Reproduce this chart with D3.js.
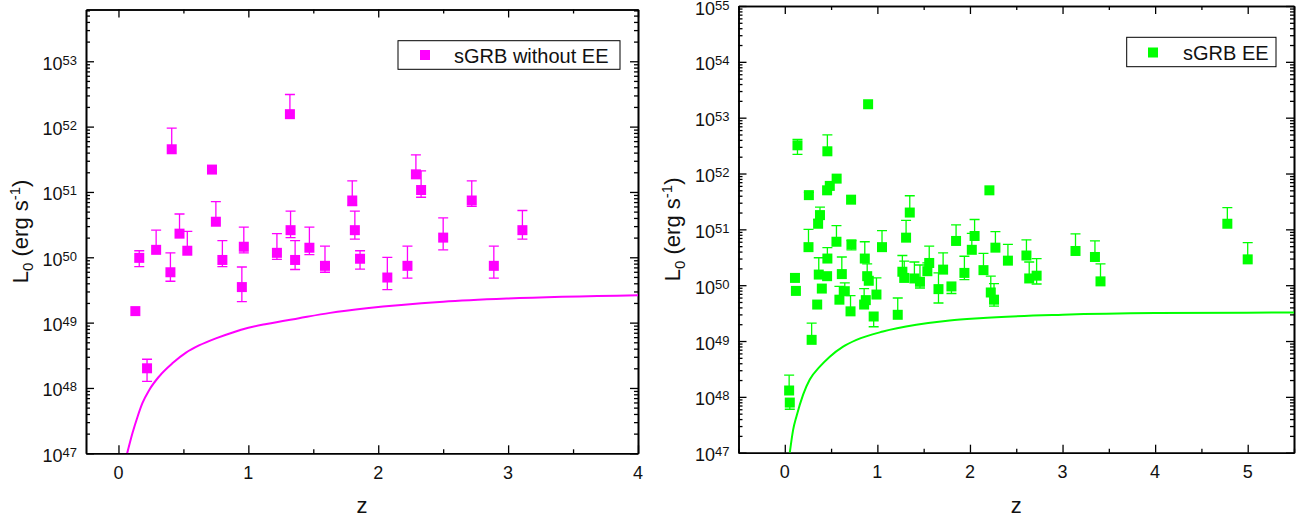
<!DOCTYPE html>
<html>
<head>
<meta charset="utf-8">
<script src="https://cdn.jsdelivr.net/npm/d3@7"></script>
<style>
  body { margin: 0; background: #fff; }
  svg { display: block; font-family: "Liberation Sans", Arial, sans-serif; }
</style>
</head>
<body>
<svg id="chart" width="1305" height="523"></svg>
<script>
// ---- sGRB without extended emission: redshift, L0 and its error range (erg/s)
const zNoEE  = [0.13,0.16,0.22,0.29,0.40, 0.41,0.47,0.53,0.72,0.75, 0.80,0.95,0.965,1.22,1.32, 1.325,1.36,1.47,1.59,1.80, 1.82,1.86,2.07,2.225,2.29, 2.33,2.50,2.72,2.89,3.11];
const lNoEE  = [1.5e49,9.8e49,2.0e48,1.3e50,5.9e49, 4.5e51,2.3e50,1.26e50,2.2e51,3.5e50, 9.1e49,3.5e49,1.45e50,1.17e50,1.55e52, 2.6e50,9.1e49,1.4e50,7.4e49,7.4e50, 2.6e50,9.5e49,4.9e49,7.4e49,1.86e51, 1.07e51,2.0e50,7.4e50,7.4e49,2.6e50];
const hiNoEE = [null,1.26e50,2.75e48,2.6e50,1.17e50, 9.5e51,4.6e50,2.5e50,null,7.1e50, 1.8e50,7.1e49,2.9e50,2.3e50,3.1e52, 5.1e50,1.8e50,2.9e50,1.48e50,1.48e51, 5.1e50,1.26e50,1.0e50,1.48e50,3.7e51, 2.1e51,4.0e50,1.48e51,1.48e50,5.2e50];
const loNoEE = [null,7.2e49,1.26e48,null,4.3e49, null,null,null,null,null, 7.2e49,2.1e49,1.17e50,9.3e49,null, 2.0e50,6.5e49,1.1e50,5.9e49,6.2e50, 1.9e50,6.6e49,3.2e49,4.8e49,null, 8.3e50,1.3e50,6.0e50,4.8e49,1.9e50];
// detection threshold for this sample
const limZNoEE = [0.067,0.108,0.147,0.185,0.237,0.314,0.417,0.52,0.62,0.75,0.88,1.0,1.14,1.39,1.63,1.91,2.5,3.0,4.0];
const limLNoEE = [1.0e47,2.04e47,3.63e47,5.89e47,9.33e47,1.51e48,2.40e48,3.47e48,4.47e48,5.75e48,7.08e48,8.32e48,9.55e48,1.17e49,1.41e49,1.66e49,2.09e49,2.34e49,2.63e49];

// ---- sGRB with extended emission
const zEE  = [0.047,0.054,0.11,0.12,0.137, 0.256,0.26,0.29,0.35,0.36, 0.38,0.367,0.40,0.457,0.46, 0.46,0.457,0.486,0.558,0.56, 0.59,0.616,0.648,0.71,0.716, 0.72,0.857,0.864,0.875,0.89, 0.90,0.907,0.96,0.99,1.05, 1.22,1.27,1.29,1.31,1.35, 1.40,1.46,1.54,1.56,1.66, 1.71,1.80,1.85,1.94,2.02, 2.05,2.146,2.21,2.225,2.26, 2.275,2.41,2.61,2.64,2.72, 3.14,3.35,3.41,4.78,5.0];
const lEE  = [1.3e48,7.9e47,1.35e50,7.9e49,3.2e52, 4.8e50,4.1e51,1.05e49,4.5e49,1.26e51, 1.8e51,1.55e50,8.7e49,5.0e51,2.5e52, 3.0e50,1.45e50,6.0e51,6.0e50,8.1e51, 5.5e49,1.58e50,7.8e49,3.4e49,3.4e51, 5.4e50,4.5e49,3.0e50,5.4e49,1.45e50, 1.74e53,1.2e50,2.75e49,6.8e49,4.8e50, 2.95e49,1.74e50,1.35e50,7.1e50,2.0e51, 1.32e50,1.15e50,1.78e50,2.5e50,8.5e49, 1.9e50,9.5e49,6.2e50,1.66e50,4.3e50, 7.6e50,1.86e50,5.0e51,7.4e49,5.5e49, 4.7e50,2.75e50,3.4e50,1.32e50,1.48e50, 4.1e50,3.2e50,1.17e50,1.26e51,2.9e50];
const hiEE = [2.45e48,null,null,null,4.1e52, 1.0e51,4.6e51,2.1e49,null,1.5e51, 2.5e51,3.1e50,null,null,4.9e52, 4.7e50,null,null,1.17e51,null, 9.5e49,3.2e50,1.1e50,6.5e49,null, 6.3e50,8.7e49,6.0e50,null,2.4e50, null,null,null,1.35e50,9.5e50, 5.9e49,3.4e50,2.7e50,1.45e51,4.0e51, 2.6e50,2.3e50,2.5e50,5.0e50,1.66e50, 3.8e50,null,1.2e51,3.3e50,8.5e50, 1.5e51,3.7e50,null,1.45e50,1.07e50, 9.1e50,5.4e50,6.5e50,2.6e50,3.0e50, 8.3e50,6.2e50,2.4e50,2.45e51,5.8e50];
const loEE = [null,6.0e47,null,null,2.2e52, null,null,null,null,null, null,null,null,null,null, null,null,null,null,null, null,null,null,null,null, 4.3e50,null,null,null,null, null,null,1.8e49,null,null, null,null,null,null,null, null,8.9e49,null,null,4.8e49, null,7.1e49,null,1.26e50,null, null,null,null,null,4.2e49, null,null,null,null,1.05e50, null,null,null,null,null];
const limZEE = [0.054,0.09,0.126,0.198,0.27,0.378,0.486,0.63,0.774,1.06,1.42,1.78,2.1,3.0,4.0,5.5];
const limLEE = [1.0e47,2.57e47,4.47e47,1.10e48,2.04e48,3.47e48,5.25e48,7.94e48,1.05e49,1.48e49,1.95e49,2.34e49,2.57e49,2.95e49,3.16e49,3.24e49];

// ---- axis ticks
const xLabelsNoEE = [0, 1, 2, 3, 4];
const xLabelsEE   = [0, 1, 2, 3, 4, 5];
const decadesNoEE = [47, 48, 49, 50, 51, 52, 53];
const decadesEE   = [47, 48, 49, 50, 51, 52, 53, 54, 55];

const svg = d3.select("#chart");

const panels = [
  {
    id: "noee", left: 86, right: 638, top: 9.5, bottom: 453.3,
    xDomain: [-0.25, 4], yDomain: [1e47, 6.2e53],
    xLabels: xLabelsNoEE, decades: decadesNoEE,
    color: "#ff00ff", name: "sGRB without EE",
    z: zNoEE, l: lNoEE, hi: hiNoEE, lo: loNoEE, limZ: limZNoEE, limL: limLNoEE,
    legend: { x: 398, y: 40.7, w: 222, h: 28.6, mx: 425, my: 55, tx: 454, ty: 62.5 },
    yTitleX: 28
  },
  {
    id: "ee", left: 738.5, right: 1294, top: 6, bottom: 452.7,
    xDomain: [-0.5, 5.5], yDomain: [1e47, 1e55],
    xLabels: xLabelsEE, decades: decadesEE,
    color: "#00ff00", name: "sGRB EE",
    z: zEE, l: lEE, hi: hiEE, lo: loEE, limZ: limZEE, limL: limLEE,
    legend: { x: 1126.7, y: 37.3, w: 149.3, h: 29.4, mx: 1153, my: 52.5, tx: 1183, ty: 60 },
    yTitleX: 680
  }
];

panels.forEach(drawPanel);

function drawPanel(p) {
  const x = d3.scaleLinear().domain(p.xDomain).range([p.left, p.right]);
  const y = d3.scaleLog().domain(p.yDomain).range([p.bottom, p.top]);
  const g = svg.append("g");

  // clip for curve and marks
  g.append("clipPath").attr("id", "clip-" + p.id)
    .append("rect").attr("x", p.left).attr("y", p.top)
    .attr("width", p.right - p.left).attr("height", p.bottom - p.top);

  // x ticks (integer majors, half-step minors)
  const xMinor = d3.range(Math.ceil(p.xDomain[0] * 2) / 2, p.xDomain[1] + 1e-9, 0.5)
    .filter(v => Math.abs(v - Math.round(v)) > 1e-6);
  const yMinor = [];
  const lo10 = Math.floor(Math.log10(p.yDomain[0]));
  const hi10 = Math.ceil(Math.log10(p.yDomain[1]));
  for (let e = lo10; e < hi10; e++) {
    for (let m = 2; m <= 9; m++) {
      const v = m * Math.pow(10, e);
      if (v > p.yDomain[0] && v < p.yDomain[1]) yMinor.push(v);
    }
  }
  const yMajor = p.decades.map(e => Math.pow(10, e));

  function styleAxis(sel) {
    sel.selectAll("text").remove();
    sel.select(".domain").attr("stroke", "#000").attr("stroke-width", 1.6);
    sel.selectAll(".tick line").attr("stroke", "#000").attr("stroke-width", 1.3);
  }

  // bottom and top
  g.append("g").attr("transform", `translate(0,${p.bottom})`)
    .call(d3.axisBottom(x).tickValues(p.xLabels).tickSizeInner(-8).tickSizeOuter(0)).call(styleAxis);
  g.append("g").attr("transform", `translate(0,${p.bottom})`)
    .call(d3.axisBottom(x).tickValues(xMinor).tickSizeInner(-4).tickSizeOuter(0)).call(styleAxis);
  g.append("g").attr("transform", `translate(0,${p.top})`)
    .call(d3.axisTop(x).tickValues(p.xLabels).tickSizeInner(-8).tickSizeOuter(0)).call(styleAxis);
  g.append("g").attr("transform", `translate(0,${p.top})`)
    .call(d3.axisTop(x).tickValues(xMinor).tickSizeInner(-4).tickSizeOuter(0)).call(styleAxis);
  // left and right
  g.append("g").attr("transform", `translate(${p.left},0)`)
    .call(d3.axisLeft(y).tickValues(yMajor).tickSizeInner(-8).tickSizeOuter(0)).call(styleAxis);
  g.append("g").attr("transform", `translate(${p.left},0)`)
    .call(d3.axisLeft(y).tickValues(yMinor).tickSizeInner(-4).tickSizeOuter(0)).call(styleAxis);
  g.append("g").attr("transform", `translate(${p.right},0)`)
    .call(d3.axisRight(y).tickValues(yMajor).tickSizeInner(-8).tickSizeOuter(0)).call(styleAxis);
  g.append("g").attr("transform", `translate(${p.right},0)`)
    .call(d3.axisRight(y).tickValues(yMinor).tickSizeInner(-4).tickSizeOuter(0)).call(styleAxis);

  // x tick labels
  g.append("g").selectAll("text").data(p.xLabels).join("text")
    .attr("x", d => x(d)).attr("y", p.bottom + 25.5)
    .attr("text-anchor", "middle").attr("font-size", 18).attr("fill", "#111")
    .text(d => d);

  // y tick labels 10^n
  const yl = g.append("g").selectAll("text").data(p.decades).join("text")
    .attr("x", p.left - 9).attr("y", e => y(Math.pow(10, e)) + 8.5)
    .attr("text-anchor", "end").attr("fill", "#111");
  yl.append("tspan").attr("font-size", 18).text("10");
  yl.append("tspan").attr("font-size", 13).attr("dy", -5).text(e => e);

  // axis titles
  g.append("text").attr("x", (p.left + p.right) / 2).attr("y", 512.5)
    .attr("text-anchor", "middle").attr("font-size", 22).attr("fill", "#111").text("z");
  const yt = g.append("text")
    .attr("transform", `translate(${p.yTitleX},${(p.top + p.bottom) / 2}) rotate(-90)`)
    .attr("text-anchor", "middle").attr("font-size", 22).attr("fill", "#111");
  yt.append("tspan").text("L");
  yt.append("tspan").attr("font-size", 15).attr("dy", 5).text("0");
  yt.append("tspan").attr("dy", -5).text(" (erg s");
  yt.append("tspan").attr("font-size", 15).attr("dy", -8).text("-1");
  yt.append("tspan").attr("dy", 8).text(")");

  const plot = g.append("g").attr("clip-path", `url(#clip-${p.id})`);

  // threshold curve
  const limit = p.limZ.map((z, i) => [z, p.limL[i]]);
  plot.append("path").datum(limit)
    .attr("d", d3.line().x(d => x(d[0])).y(d => y(d[1])).curve(d3.curveMonotoneX))
    .attr("fill", "none").attr("stroke", p.color).attr("stroke-width", 2);

  // error bars
  const pts = p.z.map((z, i) => ({ z, l: p.l[i], hi: p.hi[i], lo: p.lo[i] }));
  const eb = plot.append("g").attr("stroke", p.color).attr("stroke-width", 1.3).attr("fill", "none");
  pts.forEach(d => {
    const cx = x(d.z);
    [d.hi, d.lo].forEach(b => {
      if (b == null) return;
      eb.append("line").attr("x1", cx).attr("x2", cx).attr("y1", y(d.l)).attr("y2", y(b));
      eb.append("line").attr("x1", cx - 5).attr("x2", cx + 5).attr("y1", y(b)).attr("y2", y(b));
    });
  });

  // square markers
  plot.append("g").selectAll("rect").data(pts).join("rect")
    .attr("x", d => x(d.z) - 5).attr("y", d => y(d.l) - 5)
    .attr("width", 10).attr("height", 10).attr("fill", p.color);

  // legend
  const L = p.legend;
  g.append("rect").attr("x", L.x).attr("y", L.y).attr("width", L.w).attr("height", L.h)
    .attr("fill", "#fff").attr("stroke", "#000").attr("stroke-width", 1);
  g.append("rect").attr("x", L.mx - 5).attr("y", L.my - 5).attr("width", 10).attr("height", 10)
    .attr("fill", p.color);
  g.append("text").attr("x", L.tx).attr("y", L.ty).attr("font-size", 20).attr("fill", "#111")
    .text(p.name);
}
</script>
</body>
</html>
